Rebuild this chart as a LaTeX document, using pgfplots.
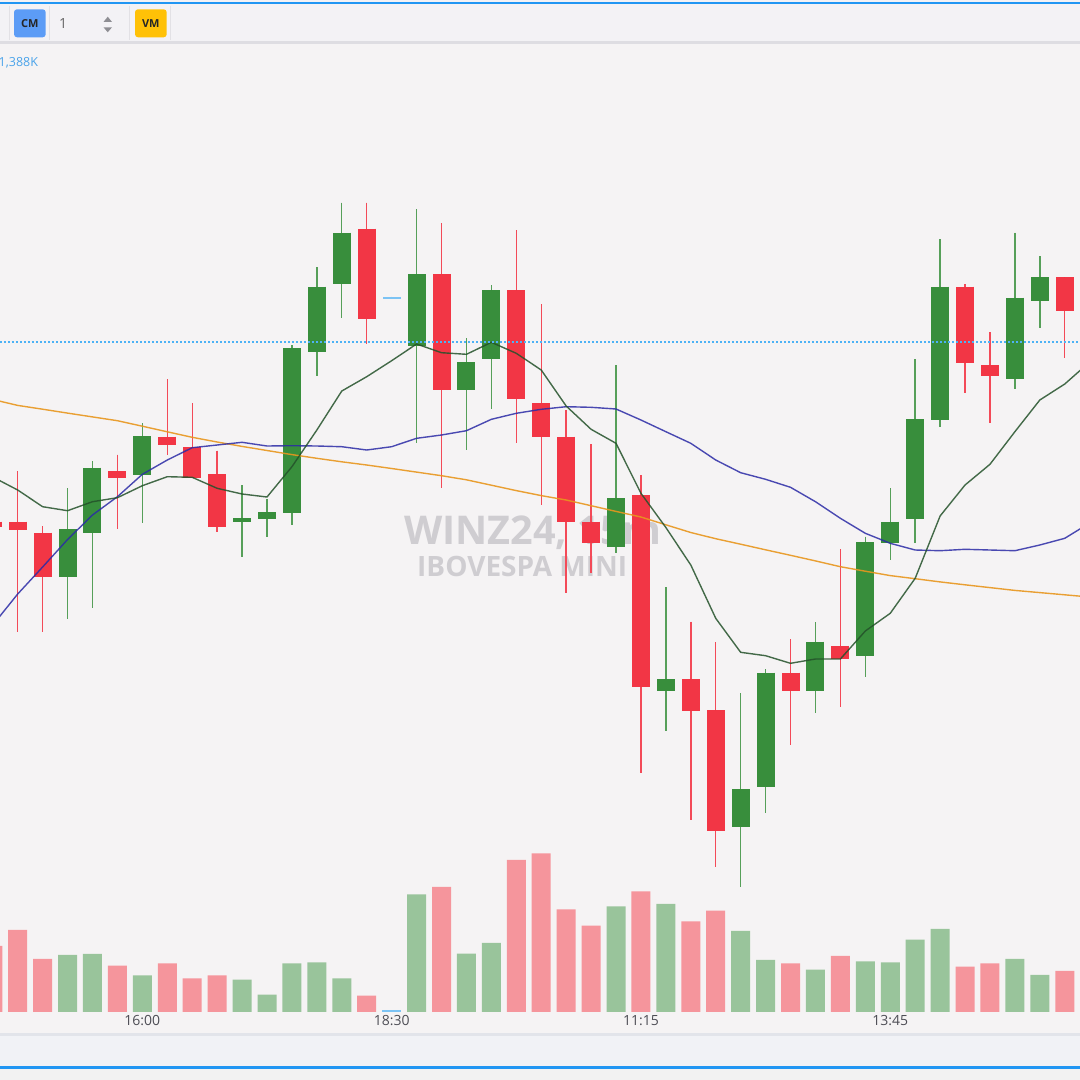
\documentclass[border=0pt]{standalone}
\usepackage{fontspec}
\setmainfont{Open Sans}
\usepackage{pgfplots}
\pgfplotsset{compat=1.18}
\usepackage{pgfplotstable}

\definecolor{bg}{HTML}{F5F3F4}
\definecolor{tbbg}{HTML}{F3F2F5}
\definecolor{tbline}{HTML}{DEDDE2}
\definecolor{sepc}{HTML}{E2E1E5}
\definecolor{topblue}{HTML}{2196F3}
\definecolor{cmblue}{HTML}{5C9CF6}
\definecolor{vmyellow}{HTML}{FFC107}
\definecolor{spin}{HTML}{8E8E93}
\definecolor{volblue}{HTML}{4AA3EA}
\definecolor{upc}{HTML}{388E3C}
\definecolor{dnc}{HTML}{F23645}
\definecolor{vup}{HTML}{99C49B}
\definecolor{vdn}{HTML}{F5959C}
\definecolor{dojic}{HTML}{7CC3F4}
\definecolor{mag}{HTML}{24522A}
\definecolor{mab}{HTML}{2B2BA6}
\definecolor{mao}{HTML}{E8961E}
\definecolor{dotc}{HTML}{4DB2F5}
\definecolor{wm}{HTML}{CFCDD1}
\definecolor{tickc}{HTML}{4D4D55}
\definecolor{band}{HTML}{F1F2F6}
\definecolor{bandline}{HTML}{E2E4EA}
\definecolor{botgrey}{HTML}{F2F2F2}

% candles (price in screen units, larger = lower): i top bot hi lo
\pgfplotstableread{
i top bot hi lo
2 529.3 577.3 488.3 619
3 467.7 533.3 461 607.7
5 436.3 475 423.3 522.7
9 518.3 522.3 485 556.7
10 512 519 499.3 536.7
11 348.3 512.7 345 525
12 286.7 352.3 267.3 375.7
13 232.7 284.3 202.7 317.7
16 274 345.7 209 443.3
18 362.3 390 338.3 450
19 290 358.7 285 409.3
24 498.3 547.3 365.3 552.7
26 679.3 690.7 587.3 730.7
29 789.3 827.3 693.3 887.3
30 672.7 786.7 669.3 813.3
32 641.7 690.7 622 713.3
34 542.3 655.7 536.7 676.7
35 521.7 542.7 488.3 560
36 419.3 519 359 542.7
37 286.7 420 239 426.7
40 297.7 379 232.7 389
41 277.3 301 256 328.3
}\tup

\pgfplotstableread{
i top bot hi lo
-1 521.7 526.7 515 532
0 521.7 530 471 631.7
1 532.7 577.3 526 631.7
4 471 478.3 454.7 529
6 436.5 445 379 455
7 447.3 478.3 403.3 478.3
8 474.3 526.7 450.7 532.3
14 228.7 318.7 202.7 344.3
17 274 390 223.3 487.7
20 290 399.3 230 443.3
21 403.3 437 304.2 505
22 436.7 522.3 410 593.3
23 521.7 542.7 444 573.3
25 495 687.3 475 772.7
27 679.3 711 621.7 820
28 710 830.7 642.3 867.3
31 672.7 690.7 639.3 745
33 645.7 659.3 549.3 707
38 286.7 362.7 284.3 393.3
39 365.3 375.7 332.3 423.3
42 277.3 311 277.3 358.3
}\tdn

\pgfplotstableread{
i top bot
15 296.8 298.6
}\tdoji

% moving averages: g (short), b (medium), o (long)
\pgfplotstableread{
i g b o
-1 477 625 399.5
0 490 594 405.4
1 506.7 567 409.2
2 510.7 539.5 413.1
3 501.7 515 416.9
4 497.7 496.7 420.7
5 485.7 474.3 426.2
6 476.7 460 431.8
7 477.3 447.7 437.3
8 488.3 445 442
9 494 442.3 446.4
10 497 446 450.5
11 466.7 445.7 454.6
12 430 446 458.3
13 391 446.7 461.8
14 376.7 450 465
15 360.7 446.7 468.5
16 344 438.3 472.1
17 352.7 435 475.7
18 354.3 430.7 479.8
19 342.3 419.3 485.2
20 353.3 413.3 490.6
21 370 409.3 495.6
22 406 406.7 500
23 429.3 407.3 505.7
24 443.3 409 511.4
25 493.3 420 517
26 527.5 431.7 524.8
27 565 443.3 532.5
28 618.3 460 538.7
29 652.3 472.7 544.2
30 655.7 479.3 549.8
31 663.3 487.3 555.3
32 659 501.7 560.9
33 659 518.3 566.7
34 631 533.3 571.2
35 613.3 543.3 575.6
36 578.3 550 578.7
37 516 550.7 581.9
38 485 549.3 584.8
39 464.3 550 587.6
40 431.7 550.7 590.4
41 400 545 592.6
42 384 538.3 594.8
43 362 523 597
}\tma

% volumes
\pgfplotstableread{
i v
2 57
3 58
5 36.7
9 32.3
10 17.3
11 48.7
12 49.7
13 33.7
16 117.7
18 58.3
19 69
24 105.7
26 108
29 81
30 52
32 42.3
34 50.7
35 49.7
36 72.3
37 83
40 53
41 37
}\vup

\pgfplotstableread{
i v
-1 66
0 82
1 53
4 46.3
6 48.7
7 33.7
8 36.7
14 16.3
17 125
20 152
21 158.7
22 102.7
23 86.3
25 120.7
27 90.7
28 101.3
31 48.7
33 56
38 45.3
39 48.7
42 41
}\vdn

\pgfplotstableread{
i v
15 2
}\vdoji

\pgfplotsset{candle/.style={only marks,mark=*,mark size=0pt,mark options={draw=none,fill=none},
  error bars/.cd,y dir=plus,y explicit,error mark=none}}

\begin{document}
\begin{tikzpicture}[x=1pt,y=1pt]
\useasboundingbox (0,0) rectangle (1080,1080);
\fill[bg] (0,0) rectangle (1080,1080);
% toolbar
\fill[tbbg] (0,1036) rectangle (1080,1080);
\fill[tbline] (0,1036) rectangle (1080,1038.5);
\fill[topblue] (0,1076) rectangle (1080,1078.3);
\foreach \sx in {9.3,49.3,129.5,170.5}{\draw[sepc,line width=1.5pt] (\sx,1074) -- (\sx,1040);}
\fill[cmblue,rounded corners=3pt] (14,1042.7) rectangle (45.7,1070.7);
\node[font=\fontsize{11}{11}\selectfont\bfseries,text=black!85] at (29.85,1056.5) {CM};
\node[anchor=base west,inner sep=0pt,font=\fontsize{14}{14}\selectfont,text=black!60] at (59,1051.7) {1};
\fill[spin] (103.5,1058) -- (112,1058) -- (107.75,1063.3) -- cycle;
\fill[spin] (103.5,1052.7) -- (112,1052.7) -- (107.75,1047.7) -- cycle;
\fill[vmyellow,rounded corners=3pt] (135,1042.7) rectangle (166.7,1070.7);
\node[font=\fontsize{11}{11}\selectfont\bfseries,text=black!85] at (150.85,1056.5) {VM};
\node[anchor=base west,inner sep=0pt,font=\fontsize{12.5}{12.5}\selectfont,text=volblue] at (-1.5,1013.5) {1,388K};
% bottom band
\fill[band] (0,14) rectangle (1080,44);
\fill[bandline] (0,43.5) rectangle (1080,46.5);
\fill[topblue] (0,11) rectangle (1080,14);
\fill[botgrey] (0,0) rectangle (1080,11);
% watermark
\node[anchor=base west,inner sep=0pt,font=\fontsize{39.6}{40}\selectfont\bfseries,text=wm] at (404,535) {WINZ24, 15m};
\node[anchor=base west,inner sep=0pt,font=\fontsize{28}{28}\selectfont\bfseries,text=wm] at (417,503.3) {IBOVESPA MINI};

% volume panel
\begin{axis}[at={(0,68)},anchor=south west,scale only axis,width=1080pt,height=1012pt,
  xmin=-0.710,xmax=42.611,ymin=0,ymax=1012,
  axis line style={draw=none},major tick length=0pt,ytick=\empty,
  xtick={5,15,25,35},xticklabels={16:00,18:30,11:15,13:45},
  xticklabel style={font=\fontsize{14}{14}\selectfont,text=tickc,anchor=base,yshift=-14pt},
  ybar,bar width=19pt]
\addplot[fill=vup,draw=none,bar shift=0pt] table[x=i,y=v] {\vup};
\addplot[fill=vdn,draw=none,bar shift=0pt] table[x=i,y=v] {\vdn};
\addplot[fill=dojic,draw=none,bar shift=0pt] table[x=i,y=v] {\vdoji};
\end{axis}

% price panel
\begin{axis}[at={(0,0)},anchor=south west,scale only axis,width=1080pt,height=1080pt,
  xmin=-0.710,xmax=42.611,ymin=0,ymax=1080,y dir=reverse,hide axis]
% wicks
\addplot[candle,error bar style={line width=1.4pt,upc!85}] table[x=i,y=hi,y error plus expr=\thisrow{lo}-\thisrow{hi}] {\tup};
\addplot[candle,error bar style={line width=1.4pt,dnc!90}] table[x=i,y=hi,y error plus expr=\thisrow{lo}-\thisrow{hi}] {\tdn};
% bodies
\addplot[candle,error bar style={line width=18pt,upc}] table[x=i,y=top,y error plus expr=\thisrow{bot}-\thisrow{top}] {\tup};
\addplot[candle,error bar style={line width=18pt,dnc}] table[x=i,y=top,y error plus expr=\thisrow{bot}-\thisrow{top}] {\tdn};
\addplot[candle,error bar style={line width=18pt,dojic}] table[x=i,y=top,y error plus expr=\thisrow{bot}-\thisrow{top}] {\tdoji};
% moving averages
\addplot[mao,line width=1.4pt,opacity=0.9] table[x=i,y=o] {\tma};
\addplot[mab,line width=1.4pt,opacity=0.85] table[x=i,y=b] {\tma};
\addplot[mag,line width=1.4pt,opacity=0.85] table[x=i,y=g] {\tma};
% last price line
\addplot[dotc,line width=1.3pt,dash pattern=on 2pt off 2pt] coordinates {(-0.71,342) (42.611,342)};
\end{axis}
\end{tikzpicture}
\end{document}
